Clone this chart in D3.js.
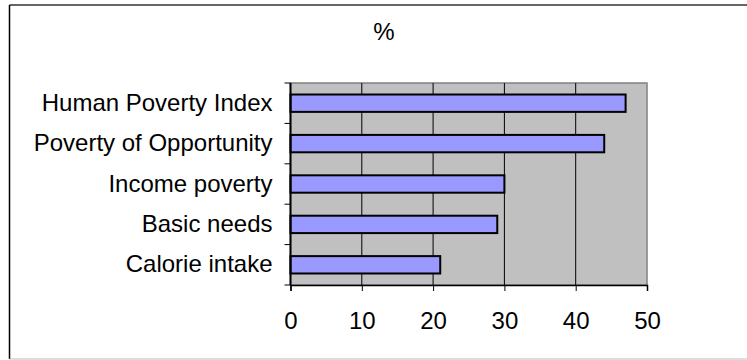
<!DOCTYPE html>
<html>
<head>
<meta charset="utf-8">
<script src="https://cdn.jsdelivr.net/npm/d3@7"></script>
<style>
  body { margin: 0; background: #fff; }
  text { font-family: "Liberation Sans", Arial, sans-serif; }
</style>
</head>
<body>
<div id="chart"></div>
<script>
// data
const categories = ["Human Poverty Index", "Poverty of Opportunity", "Income poverty", "Basic needs", "Calorie intake"];
const values = [47, 44, 30, 29, 21];
const xTicks = [0, 10, 20, 30, 40, 50];
const title = "%";

const W = 747, H = 360;
const plot = { left: 290.5, right: 647, top: 83, bottom: 285 };
const fontSize = 24;

const svg = d3.select("#chart")
    .append("svg")
    .attr("width", W)
    .attr("height", H);

// outer frame
svg.append("line").attr("x1", 9.5).attr("x2", W).attr("y1", 5).attr("y2", 5)
    .attr("stroke", "#333").attr("stroke-width", 1.5);
svg.append("line").attr("x1", 9.5).attr("x2", 9.5).attr("y1", 5).attr("y2", 359)
    .attr("stroke", "#000").attr("stroke-width", 1.5);
svg.append("line").attr("x1", 9.5).attr("x2", W).attr("y1", 359).attr("y2", 359)
    .attr("stroke", "#bbb").attr("stroke-width", 1);

const x = d3.scaleLinear().domain([0, 50]).range([plot.left, plot.right]);
const y = d3.scaleBand().domain(categories).range([plot.top, plot.bottom]).paddingInner(0.57).paddingOuter(0.285);
const yBands = d3.scaleBand().domain(categories).range([plot.top, plot.bottom]);

// plot area
svg.append("rect")
    .attr("x", plot.left).attr("y", plot.top)
    .attr("width", plot.right - plot.left).attr("height", plot.bottom - plot.top)
    .attr("fill", "#c0c0c0")
    .attr("stroke", "#808080").attr("stroke-width", 1.5);

// gridlines
svg.selectAll(".grid")
    .data(xTicks.slice(1, -1))
    .enter().append("line")
    .attr("x1", d => x(d)).attr("x2", d => x(d))
    .attr("y1", plot.top).attr("y2", plot.bottom)
    .attr("stroke", "#000").attr("stroke-width", 1);

// bars
svg.selectAll(".bar")
    .data(categories)
    .enter().append("rect")
    .attr("x", x(0))
    .attr("y", d => y(d))
    .attr("width", (d, i) => x(values[i]) - x(0))
    .attr("height", y.bandwidth())
    .attr("fill", "#9999ff")
    .attr("stroke", "#000").attr("stroke-width", 2);

// x axis
const xAxis = svg.append("g")
    .attr("transform", `translate(0, ${plot.bottom})`)
    .call(d3.axisBottom(x).tickValues(xTicks).tickSize(6).tickPadding(21));
xAxis.select(".domain").attr("stroke", "#000").attr("stroke-width", 1.5);
xAxis.selectAll(".tick line").attr("stroke", "#000");
xAxis.selectAll(".tick text")
    .attr("font-size", fontSize).attr("fill", "#000")
    .style("font-family", "'Liberation Sans', Arial, sans-serif");

// y axis
const yAxis = svg.append("g")
    .attr("transform", `translate(${plot.left}, 0)`)
    .call(d3.axisLeft(y).tickSize(0).tickPadding(18));
yAxis.select(".domain").attr("stroke", "#000").attr("stroke-width", 2)
    .attr("d", `M0,${plot.top}V${plot.bottom}`);
yAxis.selectAll(".tick text")
    .attr("font-size", fontSize).attr("fill", "#000")
    .style("font-family", "'Liberation Sans', Arial, sans-serif");

// category boundary ticks
svg.selectAll(".ytick")
    .data(categories.concat([null]))
    .enter().append("line")
    .attr("x1", plot.left - 6).attr("x2", plot.left)
    .attr("y1", (d, i) => i < categories.length ? yBands(d) : plot.bottom)
    .attr("y2", (d, i) => i < categories.length ? yBands(d) : plot.bottom)
    .attr("stroke", "#000").attr("stroke-width", 1);

// title
svg.append("text")
    .attr("x", 384).attr("y", 40)
    .attr("text-anchor", "middle")
    .attr("font-size", fontSize)
    .text(title);
</script>
</body>
</html>
